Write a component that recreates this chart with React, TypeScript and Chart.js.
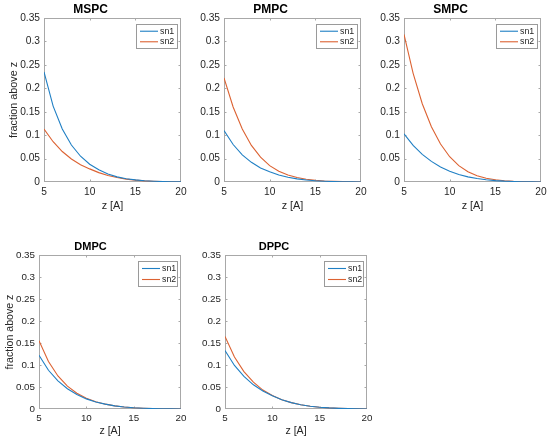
import { useEffect, useRef } from 'react';
import { Chart, registerables } from 'chart.js';

Chart.register(...registerables);

const FONT = '"Liberation Sans", Arial, Helvetica, sans-serif';
const BLUE = '#1f7fc4';
const ORANGE = '#dc6232';

// z [A] sample points and axis ticks
const zValues = [5, 6, 7, 8, 9, 10, 11, 12, 13, 14, 15, 16, 17, 18, 19, 20];
const xTicks = [5, 10, 15, 20];
const yTicks = [0, 0.05, 0.1, 0.15, 0.2, 0.25, 0.3, 0.35];
const seriesNames = ['sn1', 'sn2'];

// fraction above z
const mspcSn1 = [0.235, 0.162, 0.113, 0.079, 0.055, 0.038, 0.026, 0.017, 0.011, 0.007, 0.0045, 0.0028, 0.0017, 0.001, 0.0005, 0.0002];
const mspcSn2 = [0.113, 0.086, 0.065, 0.049, 0.037, 0.028, 0.02, 0.014, 0.0095, 0.0062, 0.004, 0.0025, 0.0015, 0.0009, 0.0005, 0.0002];
const pmpcSn1 = [0.11, 0.08, 0.058, 0.042, 0.03, 0.022, 0.015, 0.01, 0.0067, 0.0043, 0.0027, 0.0016, 0.0009, 0.0005, 0.0002, 0.0001];
const pmpcSn2 = [0.222, 0.16, 0.113, 0.078, 0.053, 0.035, 0.023, 0.015, 0.0095, 0.006, 0.0037, 0.0022, 0.0013, 0.0007, 0.0003, 0.0001];
const smpcSn1 = [0.103, 0.078, 0.059, 0.044, 0.032, 0.023, 0.016, 0.011, 0.0073, 0.0047, 0.003, 0.0018, 0.0011, 0.0006, 0.0003, 0.0001];
const smpcSn2 = [0.315, 0.232, 0.167, 0.118, 0.081, 0.054, 0.035, 0.022, 0.0135, 0.008, 0.0047, 0.0027, 0.0015, 0.0008, 0.0004, 0.0001];
const dmpcSn1 = [0.122, 0.088, 0.064, 0.046, 0.033, 0.023, 0.016, 0.011, 0.0072, 0.0046, 0.0029, 0.0018, 0.001, 0.0006, 0.0003, 0.0001];
const dmpcSn2 = [0.155, 0.108, 0.075, 0.052, 0.036, 0.0245, 0.0165, 0.011, 0.0072, 0.0046, 0.0029, 0.0018, 0.001, 0.0006, 0.0003, 0.0001];
const dppcSn1 = [0.133, 0.099, 0.074, 0.055, 0.041, 0.03, 0.021, 0.0145, 0.0098, 0.0064, 0.004, 0.0025, 0.0015, 0.0008, 0.0004, 0.0001];
const dppcSn2 = [0.165, 0.118, 0.085, 0.061, 0.043, 0.0305, 0.0212, 0.0145, 0.0098, 0.0064, 0.004, 0.0025, 0.0015, 0.0008, 0.0004, 0.0001];

type Panel = {
  title: string;
  sn1: number[];
  sn2: number[];
  // plot area in page pixels
  left: number;
  top: number;
  right: number;
  bottom: number;
  yLabel: boolean;
  yw: number;
  yTitlePad: number;
  xh: number;
  tickPad: number;
  tickSize: number;
  labelSize: number;
  titleSize: number;
  legW: number;
  legH: number;
};

const topRow = { top: 18, bottom: 182, yw: 44, yTitlePad: 7.5, xh: 32, tickPad: 4, tickSize: 10.2, labelSize: 10.8, titleSize: 12, legW: 41, legH: 24 };
const botRow = { top: 255, bottom: 409, yw: 44, yTitlePad: 3.5, xh: 30, tickPad: 3.3, tickSize: 9.8, labelSize: 10.6, titleSize: 11, legW: 39, legH: 25 };

const panels: Panel[] = [
  { ...topRow, title: 'MSPC', sn1: mspcSn1, sn2: mspcSn2, left: 44, right: 181, yLabel: true },
  { ...topRow, title: 'PMPC', sn1: pmpcSn1, sn2: pmpcSn2, left: 224, right: 361, yLabel: false },
  { ...topRow, title: 'SMPC', sn1: smpcSn1, sn2: smpcSn2, left: 404, right: 541, yLabel: false },
  { ...botRow, title: 'DMPC', sn1: dmpcSn1, sn2: dmpcSn2, left: 39, right: 181, yLabel: true, yw: 39 },
  { ...botRow, title: 'DPPC', sn1: dppcSn1, sn2: dppcSn2, left: 225, right: 367, yLabel: false },
];

const TITLE_H = 18;
const PAD_RIGHT = 10;

// MATLAB-like box with inward ticks on all four sides (drawn under the lines)
const axesBox = {
  id: 'axesBox',
  beforeDatasetsDraw(chart: Chart) {
    const { ctx, chartArea: a, scales } = chart;
    const tl = 2;
    ctx.save();
    ctx.strokeStyle = '#a8a8a8';
    ctx.lineWidth = 1;
    const l = Math.round(a.left) + 0.5;
    const r = Math.round(a.right) - 0.5;
    const t = Math.round(a.top) + 0.5;
    const b = Math.round(a.bottom) - 0.5;
    ctx.strokeRect(l, t, r - l, b - t);
    ctx.beginPath();
    xTicks.slice(1, -1).forEach((v) => {
      const px = Math.round(scales.x.getPixelForValue(v)) + 0.5;
      ctx.moveTo(px, b); ctx.lineTo(px, b - tl);
      ctx.moveTo(px, t); ctx.lineTo(px, t + tl);
    });
    yTicks.slice(1, -1).forEach((v) => {
      const py = Math.round(scales.y.getPixelForValue(v)) + 0.5;
      ctx.moveTo(l, py); ctx.lineTo(l + tl, py);
      ctx.moveTo(r, py); ctx.lineTo(r - tl, py);
    });
    ctx.stroke();
    ctx.restore();
  },
};

function legendPlugin(p: Panel) {
  return {
    id: 'matLegend',
    afterDatasetsDraw(chart: Chart) {
      const { ctx, chartArea: a } = chart;
      const x0 = Math.round(a.right - 4.5 - p.legW) + 0.5;
      const y0 = Math.round(a.top + 5.5) + 0.5;
      ctx.save();
      ctx.fillStyle = '#fff';
      ctx.fillRect(x0, y0, p.legW, p.legH);
      ctx.strokeStyle = '#9a9a9a';
      ctx.lineWidth = 1;
      ctx.strokeRect(x0, y0, p.legW, p.legH);
      ctx.font = `8.8px ${FONT}`;
      ctx.textBaseline = 'middle';
      ctx.fillStyle = '#262626';
      chart.data.datasets.forEach((ds, i) => {
        const yy = y0 + p.legH * (i === 0 ? 0.28 : 0.72);
        ctx.strokeStyle = ds.borderColor as string;
        ctx.lineWidth = 1.1;
        ctx.beginPath();
        ctx.moveTo(x0 + 3.5, yy);
        ctx.lineTo(x0 + 21.5, yy);
        ctx.stroke();
        ctx.fillText(ds.label as string, x0 + 23.5, yy);
      });
      ctx.restore();
    },
  };
}

function Subplot({ p }: { p: Panel }) {
  const canvasRef = useRef<HTMLCanvasElement>(null);
  const w = p.yw + (p.right - p.left) + PAD_RIGHT;
  const h = TITLE_H + (p.bottom - p.top) + p.xh;

  useEffect(() => {
    if (!canvasRef.current) return;
    const tickFont = { family: FONT, size: p.tickSize };
    const labelFont = { family: FONT, size: p.labelSize, lineHeight: '13px' };
    const chart = new Chart(canvasRef.current, {
      type: 'line',
      data: {
        datasets: [
          {
            label: seriesNames[0],
            data: zValues.map((z, i) => ({ x: z, y: p.sn1[i] })),
            borderColor: BLUE,
            borderWidth: 1.1,
            pointRadius: 0,
            tension: 0,
            fill: false,
          },
          {
            label: seriesNames[1],
            data: zValues.map((z, i) => ({ x: z, y: p.sn2[i] })),
            borderColor: ORANGE,
            borderWidth: 1.1,
            pointRadius: 0,
            tension: 0,
            fill: false,
          },
        ],
      },
      options: {
        responsive: false,
        animation: false,
        events: [],
        layout: { padding: { left: 0, top: 0, right: PAD_RIGHT, bottom: 0 } },
        plugins: {
          legend: { display: false },
          tooltip: { enabled: false },
          title: {
            display: true,
            text: p.title,
            color: '#000',
            font: { family: FONT, size: p.titleSize, weight: 'bold', lineHeight: '14px' },
            padding: { top: 3, bottom: 1 },
          },
        },
        scales: {
          x: {
            type: 'linear',
            min: 5,
            max: 20,
            afterBuildTicks: (s: any) => { s.ticks = xTicks.map((v) => ({ value: v })); },
            afterFit: (s: any) => { s.height = p.xh; },
            grid: { display: false, drawTicks: false },
            border: { display: false },
            ticks: { padding: p.tickPad, color: '#262626', font: tickFont, maxRotation: 0, autoSkip: false },
            title: { display: true, text: 'z [A]', color: '#262626', font: labelFont, padding: { top: 0, bottom: 1 } },
          },
          y: {
            type: 'linear',
            min: 0,
            max: 0.35,
            afterBuildTicks: (s: any) => { s.ticks = yTicks.map((v) => ({ value: v })); },
            afterFit: (s: any) => { s.width = p.yw; },
            grid: { display: false, drawTicks: false },
            border: { display: false },
            ticks: {
              padding: 4,
              color: '#262626',
              font: tickFont,
              autoSkip: false,
              callback: (v: any) => String(+Number(v).toFixed(2)),
            },
            title: {
              display: p.yLabel,
              text: 'fraction above z',
              color: '#262626',
              font: labelFont,
              padding: { top: p.yTitlePad, bottom: 0 },
            },
          },
        },
      } as any,
      plugins: [axesBox as any, legendPlugin(p) as any],
    });
    return () => { chart.destroy(); };
  }, [p]);

  return (
    <canvas
      ref={canvasRef}
      width={w}
      height={h}
      style={{ position: 'absolute', left: p.left - p.yw, top: p.top - TITLE_H, width: w, height: h }}
    />
  );
}

export default function App() {
  return (
    <div style={{ position: 'absolute', left: 0, top: 0, width: 550, height: 440, background: '#fff', overflow: 'hidden' }}>
      {panels.map((p) => <Subplot key={p.title} p={p} />)}
    </div>
  );
}
